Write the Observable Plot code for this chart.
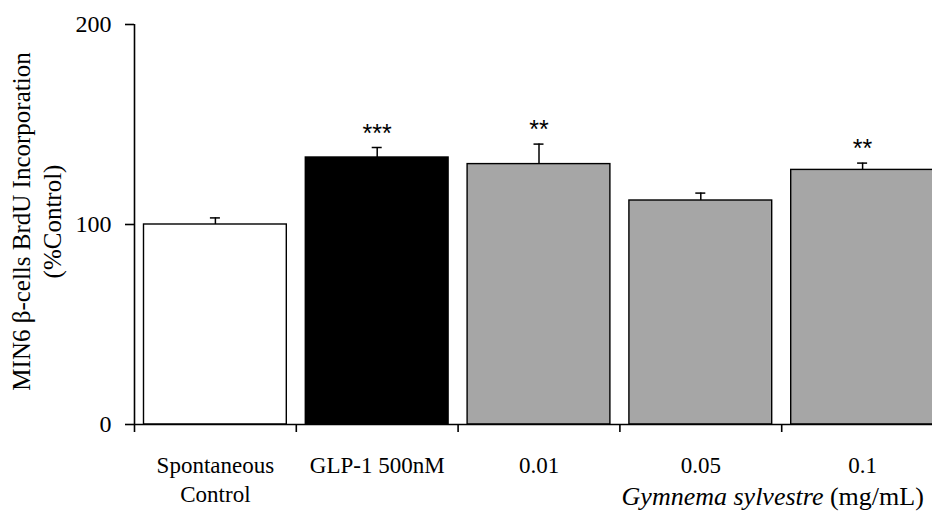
<!DOCTYPE html>
<html>
<head>
<meta charset="utf-8">
<script src="https://cdn.jsdelivr.net/npm/d3@7"></script>
<script src="https://cdn.jsdelivr.net/npm/@observablehq/plot@0.6"></script>
<style>
  html, body { margin: 0; padding: 0; background: white; overflow: hidden; }
  #chart { width: 932px; height: 514px; overflow: hidden; }
</style>
</head>
<body>
<div id="chart"></div>
<script>
const categories = ["Spontaneous\nControl", "GLP-1 500nM", "0.01", "0.05", "0.1"];
const groups = ["control", "positive", "extract", "extract", "extract"];
const means = [100, 133.5, 130.2, 112, 127.3];
const errors = [3.3, 5, 10, 3.7, 3.4];
const stars = ["", "***", "**", "", "**"];
const yTicks = [0, 100, 200];
const yLabel = "MIN6 β-cells BrdU Incorporation\n(%Control)";
const xLabelParts = ["Gymnema sylvestre", " (mg/mL)"];
const xLabel = xLabelParts.join("");

const data = categories.map((c, i) => ({
  i, category: c, group: groups[i], mean: means[i], err: errors[i], stars: stars[i]
}));

const chart = Plot.plot({
  width: 932,
  height: 514,
  marginLeft: 134,
  marginRight: 0,
  marginTop: 24,
  marginBottom: 90,
  x: {domain: [0, categories.length], range: [134, 943], axis: null},
  y: {domain: [0, 200], axis: null},
  color: {domain: ["control", "positive", "extract"], range: ["#ffffff", "#000000", "#a6a6a6"]},
  style: {fontFamily: "Liberation Serif", fontSize: "23px", color: "black", background: "white"},
  marks: [
    Plot.rectY(data, {x1: d => d.i, x2: d => d.i + 1, y: "mean", fill: "group", stroke: "black", strokeWidth: 1.4, insetLeft: 9.5, insetRight: 9.5}),
    Plot.ruleX(data, {x: d => d.i + 0.5, y1: "mean", y2: d => d.mean + d.err, stroke: "black", strokeWidth: 1.5}),
    Plot.ruleY(data, {x1: d => d.i + 0.5, x2: d => d.i + 0.5, y: d => d.mean + d.err, insetLeft: -5, insetRight: -5, stroke: "black", strokeWidth: 1.5}),
    Plot.text(data, {x: d => d.i + 0.5, y: d => d.mean + d.err, text: "stars", fontFamily: "Liberation Sans", fontSize: 25, lineAnchor: "bottom", dy: -6, fill: "black"}),
    Plot.ruleY([0], {stroke: "black", strokeWidth: 1.6}),
    Plot.ruleX([0], {y1: 0, y2: 200, stroke: "black", strokeWidth: 1.6}),
    Plot.axisY({ticks: yTicks, tickSize: 9, tickPadding: 14, strokeWidth: 1.6, label: null, fontSize: 24, fill: "black", stroke: "black"}),
    Plot.axisX({ticks: [0, 1, 2, 3, 4], tickSize: 8, tickFormat: () => "", strokeWidth: 1.6, label: null, stroke: "black"}),
    Plot.text(data, {x: d => d.i + 0.5, text: "category", frameAnchor: "bottom", lineAnchor: "top", dy: 28, lineHeight: 1.25, fontSize: 23, fill: "black"}),
    Plot.text([xLabel], {x: 4, frameAnchor: "bottom", lineAnchor: "bottom", dy: 80, dx: -9, fontSize: 26, fill: "black"}),
    Plot.text([yLabel], {frameAnchor: "left", textAnchor: "middle", rotate: -90, dx: -99, dy: -3, lineHeight: 1.25, fontSize: 25, fill: "black"})
  ]
});

document.getElementById("chart").appendChild(chart);

// Italicise the species name in the x label
d3.select(chart).selectAll("text").each(function() {
  if (this.textContent === xLabel) {
    const t = d3.select(this);
    t.text(null);
    t.append("tspan").attr("font-style", "italic").text(xLabelParts[0]);
    t.append("tspan").text(xLabelParts[1]);
  }
});
</script>
</body>
</html>
